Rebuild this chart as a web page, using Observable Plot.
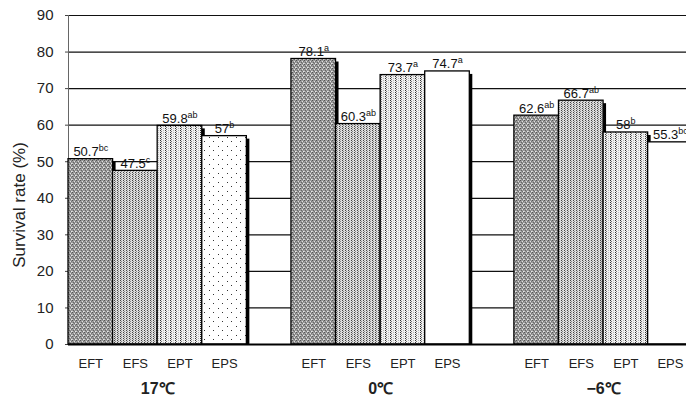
<!DOCTYPE html>
<html><head><meta charset="utf-8">
<script src="https://cdn.jsdelivr.net/npm/d3@7"></script>
<script src="https://cdn.jsdelivr.net/npm/@observablehq/plot@0.6"></script>
<style>
html,body{margin:0;padding:0;background:#fff;overflow:hidden}
svg{font-family:"Liberation Sans",Arial,sans-serif}
</style>
</head><body><div id="chart"></div>
<script>
// ---- data ----
const groups = ["17℃", "0℃", "−6℃"];
const treatments = ["EFT", "EFS", "EPT", "EPS"];
const values17 = [50.7, 47.5, 59.8, 57];
const values0 = [78.1, 60.3, 73.7, 74.7];
const valuesM6 = [62.6, 66.7, 58, 55.3];
const letters17 = ["bc", "c", "ab", "b"];
const letters0 = ["a", "ab", "a", "a"];
const lettersM6 = ["ab", "ab", "b", "bc"];
const yTicks = [0, 10, 20, 30, 40, 50, 60, 70, 80, 90];
const yLabel = "Survival rate (%)";

const seriesValues = [values17, values0, valuesM6];
const seriesLetters = [letters17, letters0, lettersM6];

const rows = [];
groups.forEach((g, gi) => treatments.forEach((t, ti) => {
  const slot = gi * 5 + ti;
  rows.push({group: g, gi, treatment: t, slot, x1: slot, x2: slot + 1,
    value: seriesValues[gi][ti], letters: seriesLetters[gi][ti]});
}));
const groupRows = groups.map((g, gi) => ({group: g, xc: gi * 5 + 2}));

function fillFor(d) {
  if (d.treatment === "EPS") return d.gi === 0 ? "url(#pDots)" : "white";
  return "url(#p" + d.treatment + ")";
}

const chart = Plot.plot({
  width: 686,
  height: 405,
  marginLeft: 68,
  marginRight: 0,
  marginTop: 15,
  marginBottom: 61,
  style: {background: "white", fontFamily: "'Liberation Sans', Arial, sans-serif", overflow: "hidden"},
  x: {type: "linear", domain: [0, 13.86], axis: null},
  y: {type: "linear", domain: [0, 90], axis: null},
  marks: [
    Plot.ruleY(yTicks.filter(v => v > 0), {stroke: "#111", strokeWidth: 1.2}),
    Plot.ruleX([0], {stroke: "#666", strokeWidth: 1}),
    Plot.ruleY(yTicks, {x1: 0, x2: 0.07, dx: -3, stroke: "#444", strokeWidth: 1}),
    // shadows
    Plot.rect(rows, {x1: "x1", x2: "x2", y1: 0, y2: "value", fill: "#000", dx: 3, dy: 3, insetBottom: 3}),
    // bars
    Plot.rect(rows, {x1: "x1", x2: "x2", y1: 0, y2: "value", fill: fillFor, stroke: "#000", strokeWidth: 1.3}),
    Plot.ruleY([0], {stroke: "#000", strokeWidth: 2}),
    // value labels
    Plot.text(rows, {x: d => d.slot + 0.5, y: "value", text: d => d.value + "|" + d.letters,
      lineAnchor: "bottom", dy: -3, fontSize: 13, fill: "#111"}),
    // y ticks text
    Plot.text(yTicks, {x: () => 0, y: d => d, text: d => String(d), textAnchor: "end", dx: -15, fontSize: 15, fill: "#222"}),
    Plot.text([yLabel], {frameAnchor: "left", textAnchor: "middle", dx: -49, dy: 25, rotate: -90, fontSize: 17, fill: "#222",
      letterSpacing: "0.5px"}),
    // x category labels
    Plot.text(rows, {x: d => d.slot + 0.5, frameAnchor: "bottom", text: "treatment", dy: 23, fontSize: 13, fill: "#222"}),
    Plot.text(groupRows, {x: "xc", frameAnchor: "bottom", text: "group", dy: 49, fontSize: 16, fontWeight: "bold", fill: "#222"})
  ]
});

// patterns
const svg = d3.select(chart);
const defs = svg.insert("defs", ":first-child");
// EFT: dark mottled
const p1 = defs.append("pattern").attr("id", "pEFT").attr("patternUnits", "userSpaceOnUse").attr("width", 4).attr("height", 4);
p1.append("rect").attr("width", 4).attr("height", 4).attr("fill", "#9a9a9a");
[[0,0,"#555"],[2,1,"#e0e0e0"],[1,2,"#666"],[3,3,"#e8e8e8"],[3,1,"#777"],[0,3,"#ccc"],[2,3,"#707070"]].forEach(([x,y,c]) =>
  p1.append("rect").attr("x", x).attr("y", y).attr("width", 1).attr("height", 1).attr("fill", c));
// EFS: fine vertical dotted lines
const p2 = defs.append("pattern").attr("id", "pEFS").attr("patternUnits", "userSpaceOnUse").attr("width", 3).attr("height", 2);
p2.append("rect").attr("width", 3).attr("height", 2).attr("fill", "#dcdcdc");
p2.append("rect").attr("x", 0).attr("y", 0).attr("width", 1).attr("height", 1).attr("fill", "#444");
p2.append("rect").attr("x", 1).attr("y", 1).attr("width", 1).attr("height", 1).attr("fill", "#888");
// EPT: vertical stripes
const p3 = defs.append("pattern").attr("id", "pEPT").attr("patternUnits", "userSpaceOnUse").attr("width", 5).attr("height", 2);
p3.append("rect").attr("width", 5).attr("height", 2).attr("fill", "#f0f0f0");
p3.append("rect").attr("x", 0).attr("y", 0).attr("width", 1).attr("height", 1).attr("fill", "#333");
p3.append("rect").attr("x", 1).attr("y", 1).attr("width", 1).attr("height", 1).attr("fill", "#777");
p3.append("rect").attr("x", 3).attr("y", 0).attr("width", 1).attr("height", 1).attr("fill", "#bbb");
// dots
const p4 = defs.append("pattern").attr("id", "pDots").attr("patternUnits", "userSpaceOnUse").attr("width", 9).attr("height", 9);
p4.append("rect").attr("width", 9).attr("height", 9).attr("fill", "#fff");
p4.append("rect").attr("x", 2).attr("y", 2).attr("width", 1).attr("height", 1).attr("fill", "#333");
p4.append("rect").attr("x", 6).attr("y", 6).attr("width", 1).attr("height", 1).attr("fill", "#333");

// superscript letters
svg.selectAll("text").each(function() {
  const el = d3.select(this);
  const t = el.text();
  if (!t.includes("|")) return;
  const [num, sup] = t.split("|");
  el.text(null);
  el.append("tspan").text(num);
  el.append("tspan").attr("dy", "-5").attr("font-size", 9).text(sup);
});

document.getElementById("chart").appendChild(chart);
</script>
</body></html>
